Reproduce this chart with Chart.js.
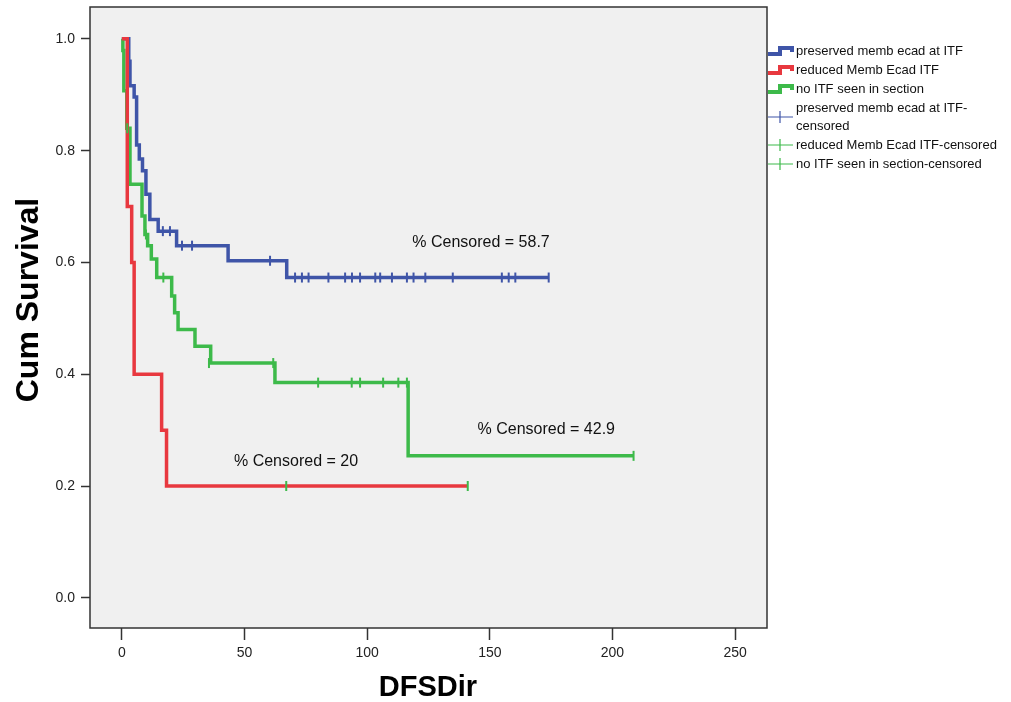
<!DOCTYPE html>
<html>
<head>
<meta charset="utf-8">
<script src="https://cdn.jsdelivr.net/npm/chart.js@4"></script>
<style>
  html, body { margin: 0; padding: 0; background: #fff; }
  #wrap { width: 1011px; height: 702px; }
</style>
</head>
<body>
<div id="wrap"><canvas id="km"></canvas></div>
<script>
// ticks
const xTicks = [0, 50, 100, 150, 200, 250];
const yTicks = [0, 0.2, 0.4, 0.6, 0.8, 1.0];

// preserved memb ecad at ITF
const preservedTimes = [0, 2.8, 3.3, 5, 6, 7.1, 8.4, 9.8, 11.4, 14.8, 22.3, 43.3, 67.2, 174];
const preservedSurv  = [1.0, 0.96, 0.916, 0.896, 0.81, 0.785, 0.764, 0.722, 0.677, 0.656, 0.63, 0.603, 0.573, 0.573];
const preservedCensT = [16.7, 19.6, 24.5, 28.6, 60.4, 70.6, 73.4, 76.1, 84.2, 91, 93.8, 97.1, 103.3, 105.3, 110.1, 116.2, 118.9, 123.7, 134.9, 154.9, 157.7, 160.4, 174];
const preservedCensS = [0.656, 0.656, 0.63, 0.63, 0.603, 0.573, 0.573, 0.573, 0.573, 0.573, 0.573, 0.573, 0.573, 0.573, 0.573, 0.573, 0.573, 0.573, 0.573, 0.573, 0.573, 0.573, 0.573];

// reduced Memb Ecad ITF
const reducedTimes = [0, 2.2, 4, 5, 16.2, 18.2, 141];
const reducedSurv  = [1.0, 0.7, 0.6, 0.4, 0.3, 0.2, 0.2];
const reducedCensT = [67, 141];
const reducedCensS = [0.2, 0.2];

// no ITF seen in section
const noneTimes = [0, 0.4, 0.8, 2.0, 3.3, 8.2, 9.4, 10.5, 12, 14.2, 20.3, 21.5, 22.9, 29.8, 36.2, 62.4, 116.7, 208.6];
const noneSurv  = [1.0, 0.979, 0.907, 0.84, 0.74, 0.683, 0.65, 0.63, 0.606, 0.573, 0.54, 0.51, 0.48, 0.45, 0.42, 0.385, 0.254, 0.254];
const noneCensT = [2.2, 9.8, 16.9, 35.5, 61.7, 80, 93.7, 97.1, 106.5, 112.7, 116.2, 208.6];
const noneCensS = [0.84, 0.65, 0.573, 0.42, 0.42, 0.385, 0.385, 0.385, 0.385, 0.385, 0.385, 0.254];

const BLUE = '#3f55a8';
const RED = '#e8383f';
const GREEN = '#3dba4a';
const FONT = "Arial, 'Liberation Sans', sans-serif";

const pts = (t, s) => t.map((v, i) => ({ x: v, y: s[i] }));

function curve(label, t, s, color, order) {
    return { label, data: pts(t, s), borderColor: color, borderWidth: 3.5, stepped: true,
             pointRadius: 0, fill: false, order };
}
function marks(label, t, s, color) {
    return { label, data: pts(t, s), showLine: false, borderColor: color, backgroundColor: color,
             pointStyle: 'line', rotation: 90, pointRadius: 5, borderWidth: 2, order: 0 };
}

// % Censored notes (data coordinates)
const notes = [
    { text: '% Censored = 58.7', x: 118.4, y: 0.636 },
    { text: '% Censored = 42.9', x: 145, y: 0.301 },
    { text: '% Censored = 20', x: 45.7, y: 0.244 }
];

const legendItems = [
    { kind: 'step', color: BLUE, lines: ['preserved memb ecad at ITF'] },
    { kind: 'step', color: RED, lines: ['reduced Memb Ecad ITF'] },
    { kind: 'step', color: GREEN, lines: ['no ITF seen in section'] },
    { kind: 'cens', color: BLUE, lines: ['preserved memb ecad at ITF-', 'censored'] },
    { kind: 'cens', color: GREEN, lines: ['reduced Memb Ecad ITF-censored'] },
    { kind: 'cens', color: GREEN, lines: ['no ITF seen in section-censored'] }
];

const framePlugin = {
    id: 'framePlugin',
    beforeDraw(chart) {
        const { ctx, chartArea: a } = chart;
        ctx.save();
        ctx.fillStyle = '#f0f0f0';
        ctx.fillRect(a.left, a.top, a.right - a.left, a.bottom - a.top);
        ctx.restore();
    },
    afterDatasetsDraw(chart) {
        const { ctx, chartArea: a, scales } = chart;
        ctx.save();
        ctx.strokeStyle = '#333';
        ctx.lineWidth = 1.5;
        ctx.strokeRect(a.left, a.top, a.right - a.left, a.bottom - a.top);

        ctx.fillStyle = '#111';
        ctx.font = '16px ' + FONT;
        ctx.textBaseline = 'middle';
        ctx.textAlign = 'left';
        notes.forEach(n => {
            ctx.fillText(n.text, scales.x.getPixelForValue(n.x), scales.y.getPixelForValue(n.y));
        });
        ctx.restore();
    },
    afterDraw(chart) {
        const { ctx, chartArea: a } = chart;
        ctx.save();
        // axis titles
        ctx.fillStyle = '#000';
        ctx.textAlign = 'center';
        ctx.textBaseline = 'middle';
        ctx.font = 'bold 32px ' + FONT;
        ctx.save();
        ctx.translate(29, 300);
        ctx.rotate(-Math.PI / 2);
        ctx.fillText('Cum Survival', 0, 0);
        ctx.restore();
        ctx.font = 'bold 29px ' + FONT;
        ctx.fillText('DFSDir', 428, 688);

        // legend
        const x0 = a.right + 1, x1 = a.right + 26, tx = a.right + 29;
        let y = 51;
        const lh = 18;
        ctx.font = '13px ' + FONT;
        ctx.textAlign = 'left';
        legendItems.forEach(it => {
            const iy = y + (it.lines.length - 1) * lh / 2;
            ctx.strokeStyle = it.color;
            ctx.beginPath();
            if (it.kind === 'step') {
                ctx.lineWidth = 4;
                ctx.moveTo(x0, iy + 3);
                ctx.lineTo(x0 + 12, iy + 3);
                ctx.lineTo(x0 + 12, iy - 3);
                ctx.lineTo(x1 - 1, iy - 3);
                ctx.lineTo(x1 - 1, iy + 1);
            } else {
                ctx.lineWidth = 1.2;
                ctx.moveTo(x0, iy);
                ctx.lineTo(x1, iy);
                ctx.moveTo(x0 + 12, iy - 6);
                ctx.lineTo(x0 + 12, iy + 6);
            }
            ctx.stroke();
            ctx.fillStyle = '#111';
            it.lines.forEach((l, k) => ctx.fillText(l, tx, y + k * lh));
            y += it.lines.length * lh + 1;
        });
        ctx.restore();
    }
};

new Chart(document.getElementById('km'), {
    type: 'line',
    data: {
        datasets: [
            marks('preserved memb ecad at ITF-censored', preservedCensT, preservedCensS, BLUE),
            marks('reduced Memb Ecad ITF-censored', reducedCensT, reducedCensS, GREEN),
            marks('no ITF seen in section-censored', noneCensT, noneCensS, GREEN),
            curve('preserved memb ecad at ITF', preservedTimes, preservedSurv, BLUE, 3),
            curve('no ITF seen in section', noneTimes, noneSurv, GREEN, 2),
            curve('reduced Memb Ecad ITF', reducedTimes, reducedSurv, RED, 1)
        ]
    },
    options: {
        responsive: true, maintainAspectRatio: false, animation: false,
        layout: { padding: { left: 0, top: 0, right: 244, bottom: 0 } },
        plugins: { legend: { display: false }, tooltip: { enabled: false } },
        scales: {
            x: {
                type: 'linear', min: -13, max: 263,
                afterBuildTicks: s => { s.ticks = xTicks.map(v => ({ value: v })); },
                afterFit: s => { s.height = 74; },
                grid: { drawOnChartArea: false, drawTicks: true, tickLength: 12, color: '#333', tickWidth: 1.5 },
                border: { display: false },
                ticks: { color: '#222', font: { family: FONT, size: 14 }, padding: 5, maxRotation: 0 }
            },
            y: {
                min: -0.054, max: 1.057,
                afterBuildTicks: s => { s.ticks = yTicks.map(v => ({ value: v })); },
                afterFit: s => { s.width = 90; s.paddingTop = 0; },
                grid: { drawOnChartArea: false, drawTicks: true, tickLength: 9, color: '#333', tickWidth: 1.5 },
                border: { display: false },
                ticks: { color: '#222', font: { family: FONT, size: 14 }, padding: 6,
                         callback: v => v.toFixed(1) }
            }
        }
    },
    plugins: [framePlugin]
});
</script>
</body>
</html>
